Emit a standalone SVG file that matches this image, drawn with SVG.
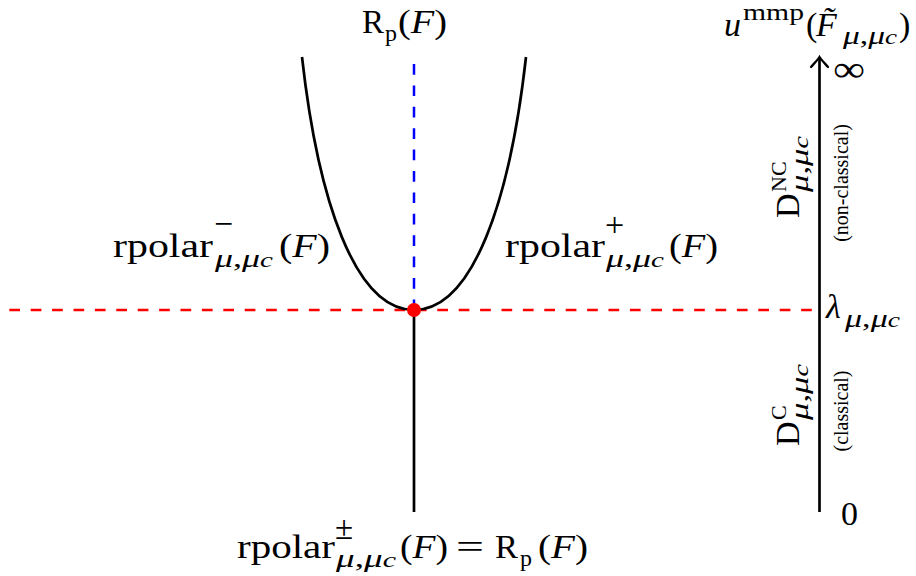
<svg xmlns="http://www.w3.org/2000/svg" width="916" height="576" viewBox="0 0 916 576">
<style>
text{font-family:"Liberation Serif","Times New Roman",serif;fill:#000}
.m{font-size:34px}
.s{font-size:24px}
.u{font-size:26px}
.g{font-size:34px}
.i{font-style:italic}
.c{font-size:21px;font-style:italic}
.sm{font-size:20px}
.blk{stroke:#000;stroke-width:2.7;fill:none}
</style>
<rect width="916" height="576" fill="#fff"/>
<g id="guides">
<line x1="9.3" y1="310" x2="815" y2="310" stroke="#ff0000" stroke-width="2.5" stroke-dasharray="10.7 10.7"/>
<line x1="414" y1="64" x2="414" y2="308" stroke="#0000ff" stroke-width="2.5" stroke-dasharray="10.7 10.7"/>
</g>
<g id="curves">
<path class="blk" d="M302,57 C318,200 355,310 414,310 C473,310 510,200 526,57"/>
<line class="blk" x1="414" y1="310" x2="414" y2="512"/>
</g>
<g id="axis">
<line class="blk" x1="819.5" y1="512" x2="819.5" y2="58"/>
<path d="M811,67 C814.5,63 818,59.5 819.5,57 C821,59.5 824.5,63 828,67" stroke="#000" stroke-width="2.3" fill="none" stroke-linecap="round"/>
</g>
<circle id="point" cx="414" cy="310" r="7" fill="#ff0000"/>
<g id="labels">
<text id="top-label" class="m"><tspan x="362" y="33" textLength="22" lengthAdjust="spacingAndGlyphs">R</tspan><tspan class="s" x="385" y="41">p</tspan><tspan x="398" y="33" textLength="49" lengthAdjust="spacingAndGlyphs">(<tspan class="i">F</tspan>)</tspan></text>

<text id="left-label" class="m"><tspan x="113" y="257" textLength="100" lengthAdjust="spacingAndGlyphs">rpolar</tspan><tspan class="g" x="214" y="235" textLength="19" lengthAdjust="spacingAndGlyphs">−</tspan><tspan class="u" x="215" y="267" textLength="58" lengthAdjust="spacingAndGlyphs"><tspan class="i">μ</tspan>,<tspan class="i">μ</tspan><tspan class="c">c</tspan></tspan><tspan x="279" y="257" textLength="51" lengthAdjust="spacingAndGlyphs">(<tspan class="i">F</tspan>)</tspan></text>

<text id="right-label" class="m"><tspan x="505" y="257" textLength="100" lengthAdjust="spacingAndGlyphs">rpolar</tspan><tspan class="g" x="605" y="236">+</tspan><tspan class="u" x="606" y="267" textLength="58" lengthAdjust="spacingAndGlyphs"><tspan class="i">μ</tspan>,<tspan class="i">μ</tspan><tspan class="c">c</tspan></tspan><tspan x="669" y="257" textLength="49" lengthAdjust="spacingAndGlyphs">(<tspan class="i">F</tspan>)</tspan></text>

<text id="bottom-label" class="m"><tspan x="237" y="558" textLength="98" lengthAdjust="spacingAndGlyphs">rpolar</tspan><tspan x="335" y="539" font-size="33">±</tspan><tspan class="u" x="336" y="567" textLength="60" lengthAdjust="spacingAndGlyphs"><tspan class="i">μ</tspan>,<tspan class="i">μ</tspan><tspan class="c">c</tspan></tspan><tspan x="400" y="558" textLength="48" lengthAdjust="spacingAndGlyphs">(<tspan class="i">F</tspan>)</tspan><tspan x="456" y="558" textLength="28" lengthAdjust="spacingAndGlyphs">=</tspan><tspan x="495" y="558" textLength="23" lengthAdjust="spacingAndGlyphs">R</tspan><tspan class="s" x="520" y="566">p</tspan><tspan x="538" y="558" textLength="50" lengthAdjust="spacingAndGlyphs">(<tspan class="i">F</tspan>)</tspan></text>

<text id="axis-title" class="m"><tspan class="i" x="724" y="36">u</tspan><tspan class="s" x="743" y="20" textLength="61" lengthAdjust="spacingAndGlyphs">mmp</tspan><tspan x="806" y="36">(</tspan><tspan class="i" x="816" y="36">F&#x303;</tspan><tspan class="u" x="843" y="44" textLength="54" lengthAdjust="spacingAndGlyphs"><tspan class="i">μ</tspan>,<tspan class="i">μ</tspan><tspan class="c">c</tspan></tspan><tspan x="899" y="36">)</tspan></text>

<g id="axis-ticks">
<text x="833" y="81" font-size="36" textLength="32" lengthAdjust="spacingAndGlyphs">∞</text>
<text class="m"><tspan class="i" x="826" y="318">λ</tspan><tspan class="u" x="845" y="327" textLength="55" lengthAdjust="spacingAndGlyphs"><tspan class="i">μ</tspan>,<tspan class="i">μ</tspan><tspan class="c">c</tspan></tspan></text>
<text class="m" x="841" y="525">0</text>
</g>
<g id="region-nc">
<text class="m" transform="translate(799,218) rotate(-90)"><tspan x="0" y="0">D</tspan><tspan x="26" y="-13" font-size="22">NC</tspan><tspan class="u" x="26" y="9" textLength="56" lengthAdjust="spacingAndGlyphs"><tspan class="i">μ</tspan>,<tspan class="i">μ</tspan><tspan class="c">c</tspan></tspan></text>
<text class="sm" transform="translate(848,183) rotate(-90)" text-anchor="middle">(non-classical)</text>
</g>
<g id="region-c">
<text class="m" transform="translate(799,446) rotate(-90)"><tspan x="0" y="0">D</tspan><tspan x="26" y="-13" font-size="22">C</tspan><tspan class="u" x="26" y="9" textLength="56" lengthAdjust="spacingAndGlyphs"><tspan class="i">μ</tspan>,<tspan class="i">μ</tspan><tspan class="c">c</tspan></tspan></text>
<text class="sm" transform="translate(848,411) rotate(-90)" text-anchor="middle">(classical)</text>
</g>
</g>
</svg>
